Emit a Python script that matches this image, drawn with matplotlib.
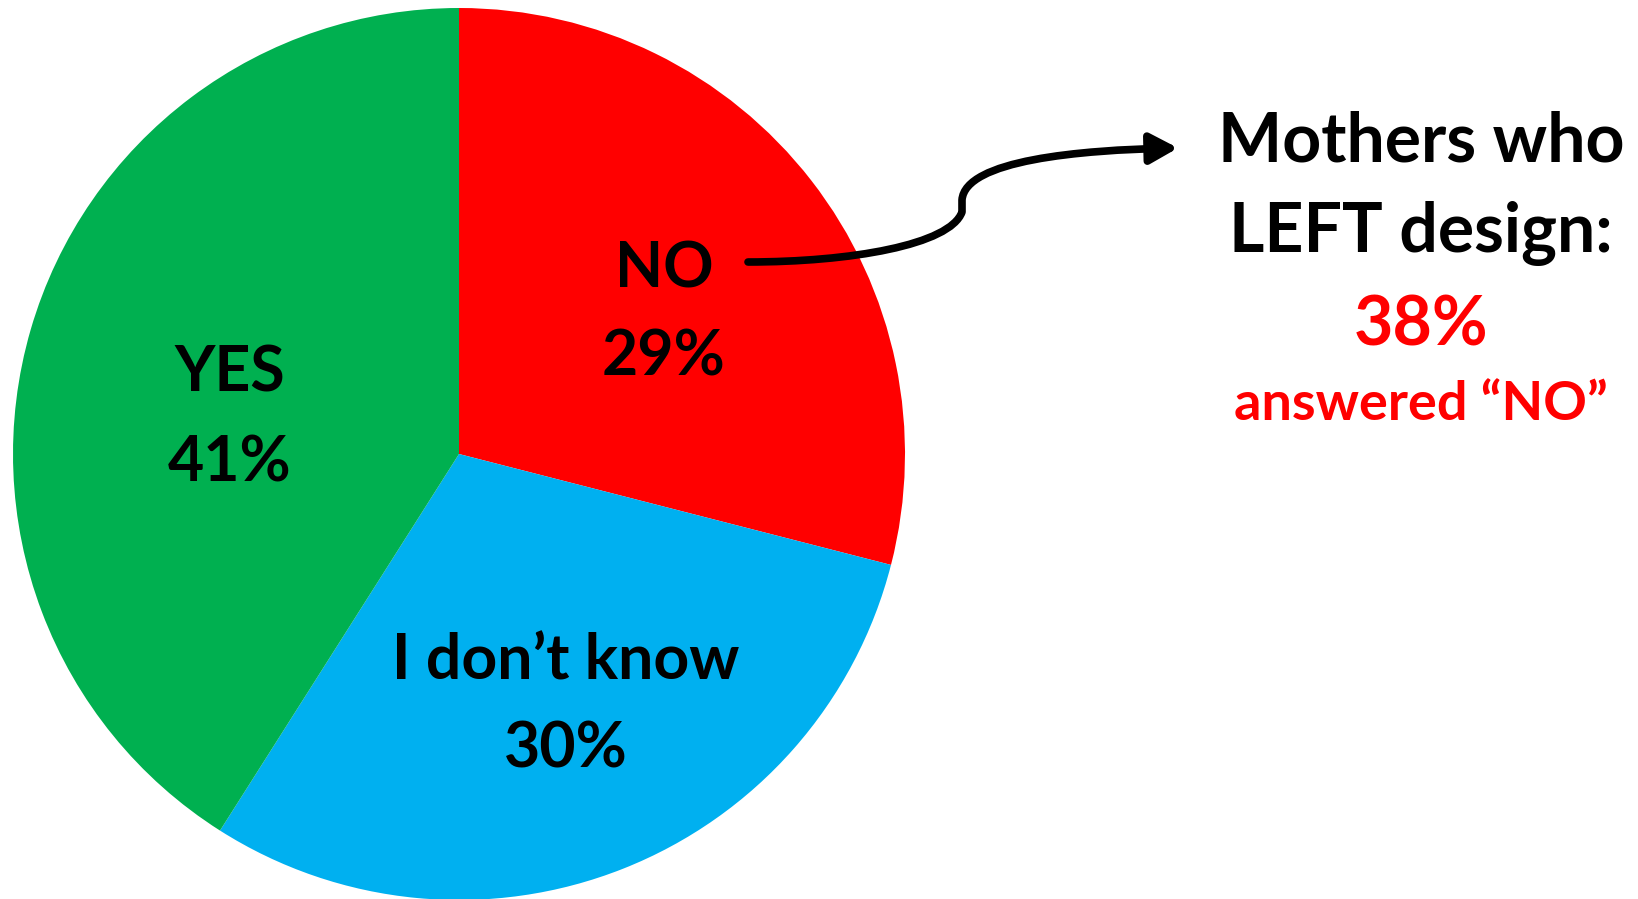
import matplotlib.pyplot as plt
from matplotlib.path import Path
from matplotlib.patches import FancyArrowPatch

plt.rcParams['font.family'] = ['Lato', 'DejaVu Sans']

# datos
respuestas = ['NO', 'I don\u2019t know', 'YES']
porcentajes = [29, 30, 41]
colores = ['#FF0000', '#00B0F0', '#00B050']
nota_titulo = ['Mothers who', 'LEFT design:']
nota_valor = '38%'
nota_pie = 'answered \u201cNO\u201d'

W, H = 1638, 899
fig = plt.figure(figsize=(W / 100, H / 100), dpi=100)
ax = fig.add_axes([0, 0, 1, 1])

# torta, coordenadas en pixeles (y hacia arriba)
ax.pie(porcentajes, colors=colores, startangle=90, counterclock=False,
       center=(459, H - 454), radius=446, wedgeprops=dict(linewidth=0))
ax.set_xlim(0, W)
ax.set_ylim(0, H)
ax.set_aspect('equal')
ax.axis('off')

# etiquetas de la torta
posiciones = [(664, 287, 376), (566, 679, 768), (230, 392, 481)]
for nombre, valor, (x, y1, y2) in zip(respuestas, porcentajes, posiciones):
    ax.text(x, H - y1, nombre, ha='center', va='baseline', fontsize=45, fontweight='bold')
    ax.text(x, H - y2, f'{valor}%', ha='center', va='baseline', fontsize=45, fontweight='bold')

# nota de la derecha
cx = 1421
ax.text(cx, H - 162, nota_titulo[0], ha='center', va='baseline', fontsize=49, fontweight='bold')
ax.text(cx, H - 252, nota_titulo[1], ha='center', va='baseline', fontsize=49, fontweight='bold')
ax.text(cx, H - 345, nota_valor, ha='center', va='baseline', fontsize=49, fontweight='bold', color='#FF0000')
ax.text(cx, H - 420, nota_pie, ha='center', va='baseline', fontsize=39, fontweight='bold', color='#FF0000')

# flecha curva
pts = [(748, 262), (850, 262), (950, 245), (962, 212),
       (962, 200), (965, 160), (1080, 150), (1178, 148)]
codes = [Path.MOVETO, Path.CURVE4, Path.CURVE4, Path.CURVE4,
         Path.LINETO, Path.CURVE4, Path.CURVE4, Path.CURVE4]
camino = Path([(x, H - y) for x, y in pts], codes)
flecha = FancyArrowPatch(path=camino, arrowstyle='-|>,head_length=1.1,head_width=0.6',
                         color='black', lw=5.5, mutation_scale=15)
ax.add_patch(flecha)

plt.savefig('out.png', dpi=100)
